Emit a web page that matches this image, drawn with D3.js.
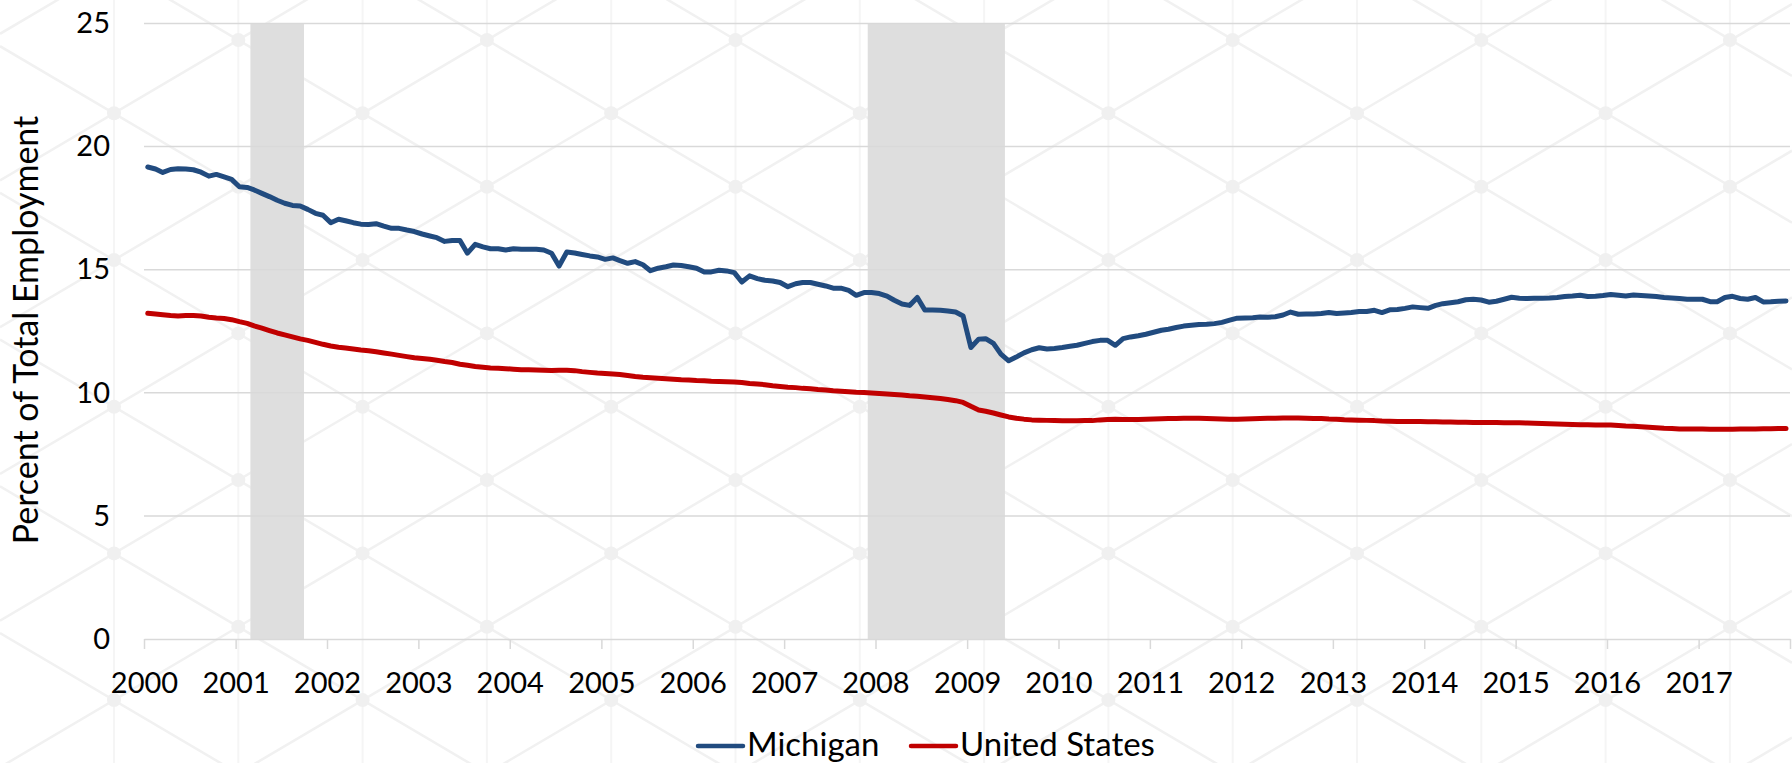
<!DOCTYPE html>
<html lang="en">
<head>
  <meta charset="UTF-8">
  <title>Manufacturing Share of Employment: Michigan vs. United States</title>
  <script src="https://d3js.org/d3.v7.min.js"></script>
  <style>
    body {
      margin: 0;
      background: #fff;
      font-family: Lato, "Open Sans", sans-serif;
    }
    svg { display: block; }
  </style>
</head>
<body>
  <svg id="chart" width="1792" height="763"></svg>

<script>
  // x axis labels, one per year
  const yearLabels = ["2000", "2001", "2002", "2003", "2004", "2005", "2006", "2007", "2008",
    "2009", "2010", "2011", "2012", "2013", "2014", "2015", "2016", "2017"];
  const yTicks = [0, 5, 10, 15, 20, 25];

  // monthly values, Jan 2000 - Dec 2017 (12 per row)
  const michigan = [
    19.17, 19.09, 18.95, 19.07, 19.10, 19.09, 19.06, 18.96, 18.80, 18.87, 18.77, 18.67, // 2000
    18.37, 18.34, 18.24, 18.10, 17.97, 17.82, 17.70, 17.61, 17.59, 17.45, 17.29, 17.21, // 2001
    16.91, 17.05, 16.99, 16.91, 16.85, 16.84, 16.87, 16.77, 16.68, 16.68, 16.61, 16.55, // 2002
    16.45, 16.37, 16.30, 16.15, 16.19, 16.19, 15.67, 16.03, 15.93, 15.85, 15.85, 15.80, // 2003
    15.85, 15.83, 15.83, 15.83, 15.80, 15.67, 15.15, 15.72, 15.68, 15.62, 15.56, 15.52, // 2004
    15.42, 15.48, 15.37, 15.26, 15.33, 15.20, 14.96, 15.06, 15.12, 15.19, 15.17, 15.12, // 2005
    15.06, 14.91, 14.91, 14.98, 14.95, 14.88, 14.50, 14.75, 14.64, 14.57, 14.54, 14.48, // 2006
    14.31, 14.43, 14.48, 14.48, 14.41, 14.34, 14.25, 14.25, 14.16, 13.96, 14.07, 14.07, // 2007
    14.03, 13.93, 13.76, 13.61, 13.55, 13.87, 13.36, 13.36, 13.35, 13.32, 13.28, 13.12, // 2008
    11.84, 12.18, 12.20, 12.01, 11.57, 11.30, 11.45, 11.62, 11.75, 11.83, 11.78, 11.80, // 2009
    11.84, 11.89, 11.93, 12.01, 12.08, 12.13, 12.13, 11.93, 12.20, 12.27, 12.32, 12.38, // 2010
    12.46, 12.54, 12.58, 12.65, 12.71, 12.74, 12.77, 12.78, 12.81, 12.86, 12.95, 13.03, // 2011
    13.04, 13.05, 13.08, 13.07, 13.09, 13.16, 13.28, 13.19, 13.20, 13.20, 13.22, 13.26, // 2012
    13.22, 13.24, 13.26, 13.30, 13.30, 13.35, 13.26, 13.37, 13.38, 13.43, 13.49, 13.46, // 2013
    13.43, 13.55, 13.62, 13.66, 13.70, 13.78, 13.80, 13.77, 13.68, 13.72, 13.80, 13.88, // 2014
    13.84, 13.83, 13.84, 13.84, 13.85, 13.87, 13.91, 13.93, 13.96, 13.91, 13.92, 13.95, // 2015
    13.99, 13.96, 13.93, 13.97, 13.95, 13.93, 13.91, 13.87, 13.85, 13.83, 13.80, 13.80, // 2016
    13.80, 13.70, 13.70, 13.87, 13.92, 13.83, 13.80, 13.87, 13.69, 13.70, 13.72, 13.73  // 2017
  ];

  const unitedStates = [
    13.23, 13.20, 13.17, 13.14, 13.12, 13.14, 13.14, 13.12, 13.07, 13.04, 13.02, 12.97, // 2000
    12.89, 12.82, 12.72, 12.63, 12.53, 12.43, 12.35, 12.27, 12.19, 12.13, 12.05, 11.97, // 2001
    11.90, 11.85, 11.82, 11.78, 11.74, 11.71, 11.67, 11.62, 11.57, 11.52, 11.47, 11.42, // 2002
    11.39, 11.36, 11.32, 11.27, 11.23, 11.16, 11.12, 11.07, 11.04, 11.01, 11.00, 10.98, // 2003
    10.96, 10.94, 10.94, 10.93, 10.92, 10.91, 10.92, 10.92, 10.90, 10.86, 10.83, 10.80, // 2004
    10.78, 10.76, 10.74, 10.70, 10.66, 10.63, 10.61, 10.59, 10.57, 10.55, 10.53, 10.52, // 2005
    10.50, 10.49, 10.47, 10.46, 10.45, 10.44, 10.42, 10.38, 10.36, 10.33, 10.29, 10.26, // 2006
    10.23, 10.21, 10.18, 10.16, 10.13, 10.11, 10.08, 10.06, 10.04, 10.02, 10.01, 9.99,  // 2007
    9.97, 9.95, 9.93, 9.91, 9.88, 9.86, 9.83, 9.80, 9.77, 9.73, 9.68, 9.61,             // 2008
    9.45, 9.30, 9.25, 9.18, 9.10, 9.02, 8.97, 8.93, 8.90, 8.89, 8.88, 8.87,             // 2009
    8.86, 8.86, 8.86, 8.87, 8.87, 8.90, 8.92, 8.93, 8.92, 8.92, 8.92, 8.93,             // 2010
    8.94, 8.95, 8.96, 8.96, 8.97, 8.97, 8.97, 8.96, 8.95, 8.94, 8.93, 8.93,             // 2011
    8.94, 8.95, 8.96, 8.97, 8.97, 8.98, 8.98, 8.98, 8.97, 8.96, 8.96, 8.94,             // 2012
    8.93, 8.91, 8.90, 8.89, 8.88, 8.87, 8.85, 8.84, 8.83, 8.83, 8.83, 8.83,             // 2013
    8.82, 8.82, 8.81, 8.81, 8.80, 8.80, 8.79, 8.79, 8.79, 8.79, 8.78, 8.78,             // 2014
    8.78, 8.77, 8.76, 8.75, 8.74, 8.73, 8.72, 8.71, 8.70, 8.70, 8.69, 8.69,             // 2015
    8.69, 8.67, 8.65, 8.64, 8.62, 8.60, 8.58, 8.56, 8.55, 8.53, 8.53, 8.53,             // 2016
    8.53, 8.52, 8.52, 8.52, 8.52, 8.53, 8.53, 8.53, 8.54, 8.54, 8.55, 8.55              // 2017
  ];

  // recession months, first and last month included
  const recessions = [["2001-03", "2001-09"], ["2007-12", "2009-05"]];

  const seriesNames = ["Michigan", "United States"];
  const seriesColors = ["#214b7f", "#c00000"];

  const svg = d3.select("#chart");
  const width = 1792;
  const height = 763;

  const x = d3.scaleTime()
    .domain([new Date(2000, 0, 1), new Date(2018, 0, 1)])
    .range([144, 1790]);

  const y = d3.scaleLinear()
    .domain([0, 25])
    .range([639, 23.5]);

  // faint lattice watermark behind the chart
  const bg = svg.append("g").attr("class", "watermark");
  const colStep = 124.3, rowStep = 146.7, halfRow = 73.3;
  const slope = halfRow / colStep;
  const cols = d3.range(-2, 15).map(k => 238.3 + k * colStep);
  cols.forEach(cx => {
    bg.append("line")
      .attr("x1", cx).attr("x2", cx)
      .attr("y1", 0).attr("y2", height)
      .attr("stroke", "#f5f5f5").attr("stroke-width", 2);
  });
  d3.range(-14, 14).forEach(j => {
    const c = 40 - slope * 238.3 + j * rowStep;
    bg.append("line")
      .attr("x1", 0).attr("y1", c)
      .attr("x2", width).attr("y2", c + slope * width)
      .attr("stroke", "#f1f1f1").attr("stroke-width", 2.5);
    const c2 = 40 + slope * 238.3 + j * rowStep;
    bg.append("line")
      .attr("x1", 0).attr("y1", c2)
      .attr("x2", width).attr("y2", c2 - slope * width)
      .attr("stroke", "#f1f1f1").attr("stroke-width", 2.5);
  });
  cols.forEach((cx, k) => {
    const y0 = (k % 2 === 0) ? 40 : 40 + halfRow;
    d3.range(-1, 7).forEach(j => {
      bg.append("circle")
        .attr("cx", cx).attr("cy", y0 + j * rowStep)
        .attr("r", 7).attr("fill", "#f0f0f0");
    });
  });

  // recession shading
  const parseMonth = d3.timeParse("%Y-%m");
  svg.append("g")
    .selectAll("rect")
    .data(recessions)
    .enter()
    .append("rect")
    .attr("x", d => x(parseMonth(d[0])))
    .attr("width", d => x(d3.timeMonth.offset(parseMonth(d[1]), 1)) - x(parseMonth(d[0])))
    .attr("y", y(25))
    .attr("height", y(0) - y(25))
    .attr("fill", "#dedede");

  // horizontal gridlines
  svg.append("g")
    .selectAll("line")
    .data(yTicks.filter(v => v > 0))
    .enter()
    .append("line")
    .attr("x1", x.range()[0])
    .attr("x2", x.range()[1])
    .attr("y1", d => y(d))
    .attr("y2", d => y(d))
    .attr("stroke", "#d9d9d9")
    .attr("stroke-width", 1.5);

  // x axis
  const yearDates = d3.range(yearLabels.length + 1).map(i => new Date(2000 + i, 0, 1));
  const xAxis = d3.axisBottom(x)
    .tickValues(yearDates)
    .tickSize(10)
    .tickSizeOuter(0)
    .tickPadding(23)
    .tickFormat((d, i) => yearLabels[i] || "");

  const gx = svg.append("g")
    .attr("transform", `translate(0,${y(0)})`)
    .call(xAxis);
  gx.select(".domain").attr("stroke", "#d9d9d9").attr("stroke-width", 1.5);
  gx.selectAll(".tick line").attr("stroke", "#d9d9d9").attr("stroke-width", 1.5);
  gx.selectAll("text")
    .attr("fill", "#000")
    .style("font-family", "Lato, sans-serif")
    .style("font-size", "29px");

  // y axis
  const gy = svg.append("g")
    .attr("transform", `translate(${x.range()[0]},0)`)
    .call(d3.axisLeft(y).tickValues(yTicks).tickSize(0).tickPadding(34));
  gy.select(".domain").remove();
  gy.selectAll("text")
    .attr("fill", "#000")
    .style("font-family", "Lato, sans-serif")
    .style("font-size", "29px");

  svg.append("text")
    .attr("transform", "translate(38,330) rotate(-90)")
    .attr("text-anchor", "middle")
    .style("font-family", "Lato, sans-serif")
    .style("font-size", "34px")
    .attr("fill", "#000")
    .text("Percent of Total Employment");

  // series lines, points at mid-month
  const monthDate = i => new Date(2000, i, 16);
  const line = d3.line()
    .x((d, i) => x(monthDate(i)))
    .y(d => y(d));

  [michigan, unitedStates].forEach((values, s) => {
    svg.append("path")
      .datum(values)
      .attr("fill", "none")
      .attr("stroke", seriesColors[s])
      .attr("stroke-width", 5)
      .attr("stroke-linejoin", "round")
      .attr("stroke-linecap", "round")
      .attr("d", line);
  });

  // legend
  const legendItems = [
    { name: seriesNames[0], color: seriesColors[0], x: 698 },
    { name: seriesNames[1], color: seriesColors[1], x: 911 }
  ];
  const legend = svg.append("g");
  legendItems.forEach(item => {
    legend.append("line")
      .attr("x1", item.x).attr("x2", item.x + 45)
      .attr("y1", 746).attr("y2", 746)
      .attr("stroke", item.color)
      .attr("stroke-width", 4.5)
      .attr("stroke-linecap", "round");
    legend.append("text")
      .attr("x", item.x + 49)
      .attr("y", 756)
      .style("font-family", "Lato, sans-serif")
      .style("font-size", "33px")
      .attr("fill", "#000")
      .text(item.name);
  });
</script>
</body>
</html>
